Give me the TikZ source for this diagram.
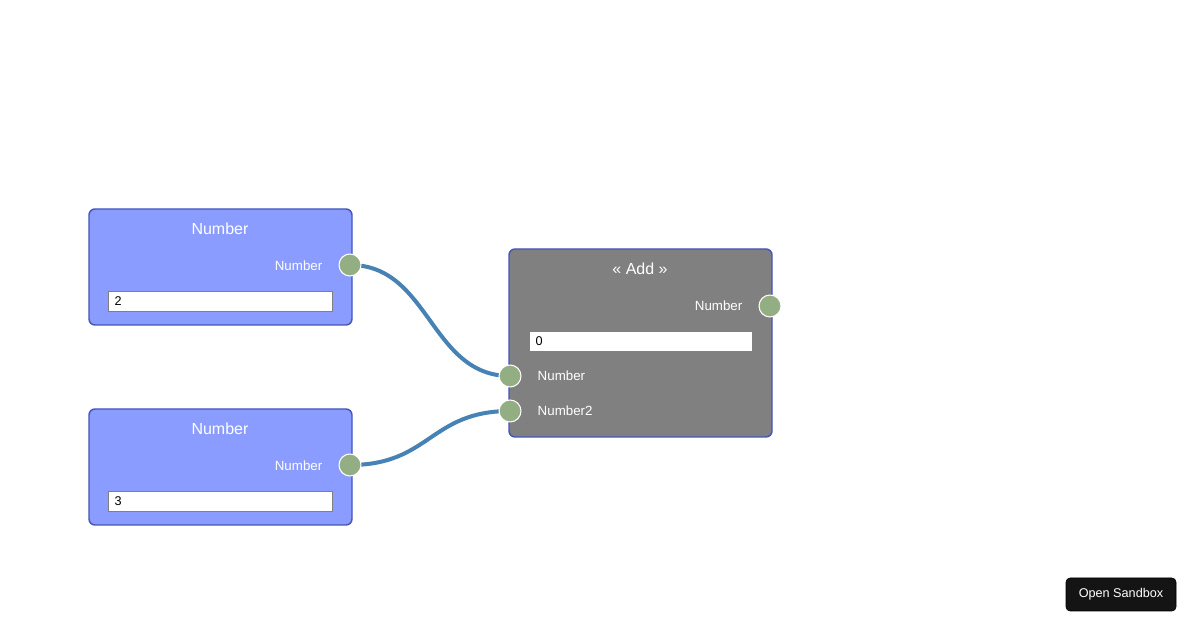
\documentclass[tikz,border=0pt]{standalone}
\usepackage{fontspec}
\setmainfont{Liberation Sans}
\definecolor{nodeblue}{HTML}{8A9CFF}
\definecolor{nodeedge}{HTML}{4455BB}
\definecolor{addgrey}{HTML}{808080}
\definecolor{portgreen}{HTML}{94AE84}
\definecolor{wire}{HTML}{4682B4}
\begin{document}
\begin{tikzpicture}[x=0.75pt,y=-0.75pt,
  box/.style={draw=nodeedge,line width=1.1pt,rounded corners=4.5pt},
  title/.style={text=white,font=\fontsize{12}{14}\selectfont},
  lbl/.style={text=white,font=\fontsize{10}{12}\selectfont},
  port/.style={circle,fill=portgreen,draw=white,line width=0.8pt,minimum size=16.5pt,inner sep=0pt},
  field/.style={draw=gray,fill=white,line width=0.5pt},
  ftext/.style={font=\fontsize{9.5}{11}\selectfont,anchor=west},
  wirestyle/.style={wire,line width=3pt}]
\useasboundingbox (0,0) rectangle (1200,630);
% Number node 1
\draw[box,fill=nodeblue] (89,209) rectangle (352,325);
\node[title] (t1) at (220,229) {Number};
\node[lbl,anchor=east] (l1) at (327,266) {Number};
\draw[field] (108,291) rectangle (332,311);
\node[ftext] (f1) at (110,301) {2};
% Number node 2
\draw[box,fill=nodeblue] (89,409) rectangle (352,525);
\node[title] (t2) at (220,429) {Number};
\node[lbl,anchor=east] (l2) at (327,466) {Number};
\draw[field] (108,491) rectangle (332,511);
\node[ftext] (f2) at (110,501) {3};
% Add node
\draw[box,fill=addgrey] (509,249) rectangle (772,437);
\node[title] (t3) at (640,269) {<< Add >>};
\node[lbl,anchor=east] (l3) at (747,306) {Number};
\draw[field] (529,331) rectangle (752,351);
\node[ftext] (f3) at (531,341) {0};
\node[lbl,anchor=west] (l4) at (533,376) {Number};
\node[lbl,anchor=west] (l5) at (533,411) {Number2};
% wires
\coordinate (o1) at (350,265);
\coordinate (o2) at (350,465);
\coordinate (i1) at (510,376);
\coordinate (i2) at (510,411);
\draw[wirestyle] (o1) .. controls (430,265) and (430,376) .. (i1);
\draw[wirestyle] (o2) .. controls (430,465) and (430,411) .. (i2);
% ports
\node[port] (p1) at (o1) {};
\node[port] (p2) at (o2) {};
\node[port] (p3) at (770,306) {};
\node[port] (p4) at (i1) {};
\node[port] (p5) at (i2) {};
% button
\draw[fill=black!92,rounded corners=3pt] (1066,578) rectangle (1176,611);
\node[text=white,font=\fontsize{9.5}{11}\selectfont] (btn) at (1121,594.5) {Open Sandbox};
\end{tikzpicture}
\end{document}
